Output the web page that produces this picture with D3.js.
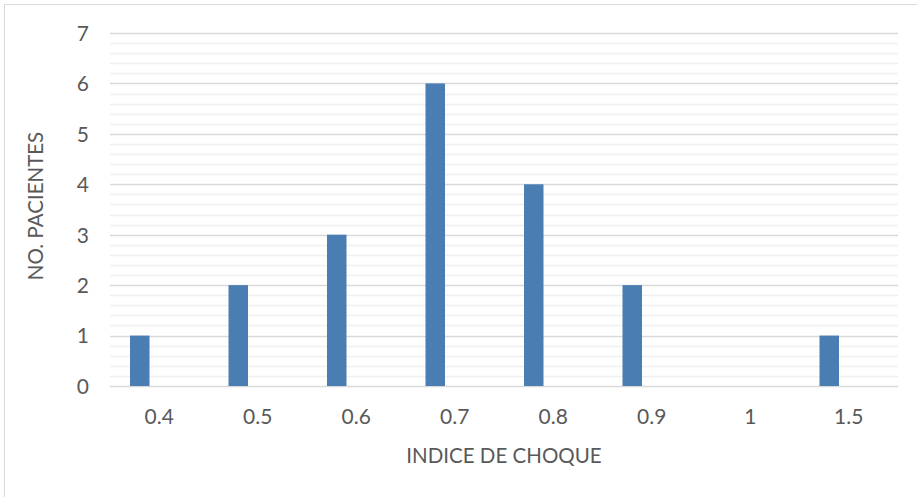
<!DOCTYPE html>
<html>
<head>
<meta charset="utf-8">
<script src="https://cdn.jsdelivr.net/npm/d3@7"></script>
<style>
  html, body { margin: 0; padding: 0; background: #fff; }
  svg { display: block; }
  text { font-family: Lato, "Open Sans", sans-serif; fill: #595959; }
</style>
</head>
<body>
<svg id="chart" width="917" height="497"></svg>
<script>
// Shock index categories and number of patients in each
const categories = ["0.4", "0.5", "0.6", "0.7", "0.8", "0.9", "1", "1.5"];
const patients = [1, 2, 3, 6, 4, 2, 0, 1];
const yTicks = [0, 1, 2, 3, 4, 5, 6, 7];
const xTitle = "INDICE DE CHOQUE";
const yTitle = "NO. PACIENTES";

const W = 917, H = 497;
const plot = { left: 110, right: 898, top: 33, bottom: 386 };

const svg = d3.select("#chart");

// chart frame
svg.append("rect")
  .attr("x", 4.5).attr("y", 4.5)
  .attr("width", W).attr("height", H)
  .attr("fill", "#fff")
  .attr("stroke", "#d9d9d9")
  .attr("stroke-width", 1);

const x = d3.scaleBand()
  .domain(categories)
  .range([plot.left, plot.right])
  .paddingInner(0.406)
  .paddingOuter(0.203);

const y = d3.scaleLinear()
  .domain([0, 7])
  .range([plot.bottom, plot.top]);

// minor gridlines every 0.2
const minor = d3.range(0, 7.0001, 0.2).filter(v => Math.abs(v - Math.round(v)) > 1e-6);
svg.append("g")
  .selectAll("line")
  .data(minor)
  .join("line")
  .attr("x1", plot.left).attr("x2", plot.right)
  .attr("y1", d => Math.round(y(d)) + 0.5)
  .attr("y2", d => Math.round(y(d)) + 0.5)
  .attr("stroke", "#f0f0f0")
  .attr("stroke-width", 1.3);

// major gridlines
svg.append("g")
  .selectAll("line")
  .data(yTicks)
  .join("line")
  .attr("x1", plot.left).attr("x2", plot.right)
  .attr("y1", d => Math.round(y(d)) + 0.5)
  .attr("y2", d => Math.round(y(d)) + 0.5)
  .attr("stroke", "#d9d9d9")
  .attr("stroke-width", 1.3);

// bars: first slot of each cluster
const barW = x.bandwidth() / 3;
svg.append("g")
  .selectAll("rect")
  .data(categories.map((c, i) => ({ c, v: patients[i] })).filter(d => d.v > 0))
  .join("rect")
  .attr("x", d => x(d.c))
  .attr("width", barW)
  .attr("y", d => y(d.v))
  .attr("height", d => y(0) - y(d.v))
  .attr("fill", "#4a7db1");

// y axis labels
const yAxis = d3.axisLeft(y).tickValues(yTicks).tickSize(0).tickPadding(0).tickFormat(d3.format("d"));
const gy = svg.append("g")
  .attr("transform", `translate(${plot.left - 21},0)`)
  .call(yAxis);
gy.select(".domain").remove();
gy.selectAll("text")
  .style("font-size", "21px")
  .attr("dy", "0.35em")
  .attr("fill", "#595959");

// x axis labels
const xAxis = d3.axisBottom(x).tickSize(0).tickPadding(0);
const gx = svg.append("g")
  .attr("transform", `translate(0,${plot.bottom})`)
  .call(xAxis);
gx.select(".domain").remove();
gx.selectAll("text")
  .style("font-size", "21px")
  .attr("y", 37.5)
  .attr("dy", 0)
  .attr("fill", "#595959");

// axis titles
svg.append("text")
  .attr("x", (plot.left + plot.right) / 2)
  .attr("y", 463)
  .attr("text-anchor", "middle")
  .style("font-size", "20.5px")
  .text(xTitle);

svg.append("text")
  .attr("transform", `translate(42.5,206) rotate(-90)`)
  .attr("text-anchor", "middle")
  .style("font-size", "20.5px")
  .text(yTitle);
</script>
</body>
</html>
